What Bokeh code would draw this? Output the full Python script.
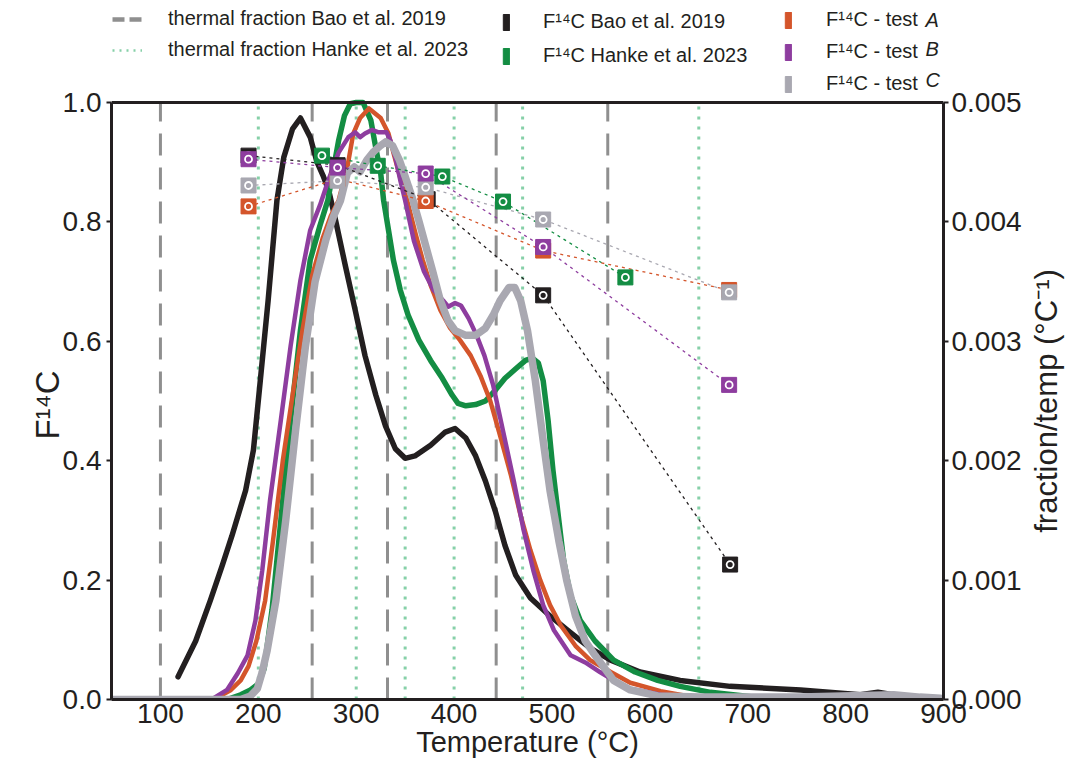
import math
import numpy as np
from bokeh.plotting import figure
from bokeh.models import (Range1d, LinearAxis, FixedTicker, PrintfTickFormatter,
                          Legend, LegendItem, Label, Span)
from bokeh.layouts import row
from bokeh.core.properties import value
from bokeh.embed import file_html
from bokeh.resources import INLINE

# ---------------- data ----------------
# thermal fraction boundaries (deg C)
bao_fractions = [100, 255, 332, 443, 557]
hanke_fractions = [200, 300, 350, 400, 470, 650]

# thermograms: temperature (deg C) and fraction/temp in units of 1e-3 per deg C
bao_T = [118, 136, 151, 163, 173, 187, 195, 202, 210, 219, 226, 235, 243, 253, 260, 266,
         272, 279, 289, 299, 309, 320, 330, 340, 350, 360, 376, 391, 401, 412, 422, 432,
         442, 452, 463, 478, 498, 519, 539, 560, 590, 631, 682, 754, 815, 833, 856, 897]
bao_ft = [0.19, 0.49, 0.83, 1.12, 1.37, 1.75, 2.09, 2.67, 3.34, 4.18, 4.54, 4.78, 4.87,
          4.71, 4.50, 4.39, 4.26, 4.01, 3.63, 3.26, 2.88, 2.55, 2.29, 2.10, 2.02, 2.04,
          2.13, 2.24, 2.27, 2.19, 2.04, 1.83, 1.58, 1.29, 1.04, 0.85, 0.70, 0.56, 0.43,
          0.33, 0.23, 0.16, 0.11, 0.08, 0.04, 0.06, 0.03, 0.01]

hanke_T = [50, 168, 182, 192, 200, 206, 214, 223, 233, 243, 253, 263, 271, 276, 282, 288,
           294, 300, 307, 315, 320, 325, 328, 333, 338, 345, 353, 364, 376, 388, 398, 404,
           412, 422, 432, 442, 452, 463, 473, 480, 486, 491, 496, 501, 507, 512, 519, 529,
           544, 563, 585, 608, 631, 662, 708]
hanke_ft = [0.0, 0.0, 0.04, 0.08, 0.13, 0.26, 0.75, 1.50, 2.34, 3.09, 3.68, 3.97, 4.18,
            4.41, 4.68, 4.89, 4.99, 5.0, 5.0, 4.85, 4.62, 4.41, 4.18, 3.93, 3.68, 3.43,
            3.22, 3.01, 2.84, 2.69, 2.55, 2.48, 2.46, 2.47, 2.50, 2.59, 2.69, 2.77, 2.84,
            2.86, 2.82, 2.67, 2.34, 1.92, 1.50, 1.16, 0.87, 0.66, 0.49, 0.33, 0.23, 0.16,
            0.11, 0.06, 0.02]

testA_T = [50, 153, 159, 172, 182, 190, 198, 207, 215, 225, 235, 245, 255, 266, 274, 282,
           291, 297, 304, 313, 325, 333, 338, 345, 352, 361, 368, 376, 386, 396, 406, 417,
           427, 437, 447, 458, 468, 478, 488, 498, 509, 524, 539, 560, 580, 611, 645, 700, 900]
testA_ft = [0.0, 0.0, 0.02, 0.08, 0.16, 0.28, 0.49, 0.83, 1.33, 2.00, 2.55, 3.09, 3.55,
            3.87, 4.05, 4.18, 4.46, 4.74, 4.87, 4.95, 4.87, 4.74, 4.58, 4.37, 4.18, 3.89,
            3.68, 3.47, 3.26, 3.11, 3.01, 2.88, 2.71, 2.50, 2.21, 1.88, 1.54, 1.25, 1.00,
            0.79, 0.62, 0.45, 0.33, 0.23, 0.14, 0.07, 0.02, 0.01, 0.0]

testB_T = [50, 146, 154, 168, 179, 189, 197, 204, 212, 223, 233, 243, 253, 263, 272, 282,
           292, 299, 304, 309, 316, 323, 331, 335, 340, 345, 350, 359, 369, 379, 389, 394,
           401, 407, 415, 423, 431, 440, 450, 461, 471, 481, 491, 502, 519, 534, 549, 563,
           580, 611, 652, 900]
testB_ft = [0.0, 0.0, 0.01, 0.08, 0.22, 0.37, 0.66, 1.08, 1.67, 2.34, 2.96, 3.51, 3.93,
            4.14, 4.36, 4.58, 4.71, 4.75, 4.71, 4.74, 4.77, 4.75, 4.75, 4.68, 4.54, 4.35,
            4.18, 3.84, 3.59, 3.43, 3.34, 3.29, 3.32, 3.30, 3.19, 3.05, 2.88, 2.63, 2.25,
            1.83, 1.42, 1.08, 0.79, 0.58, 0.37, 0.31, 0.23, 0.16, 0.09, 0.04, 0.02, 0.0]

testC_T = [50, 182, 192, 199, 204, 209, 218, 228, 238, 248, 258, 269, 277, 284, 291, 298,
           304, 311, 318, 325, 330, 337, 344, 350, 357, 364, 371, 378, 386, 394, 401, 412,
           422, 432, 440, 447, 456, 462, 468, 475, 483, 491, 498, 507, 515, 524, 534, 544,
           563, 580, 608, 652, 754, 849, 876, 897]
testC_ft = [0.0, 0.0, 0.03, 0.09, 0.23, 0.41, 0.83, 1.50, 2.25, 2.95, 3.50, 3.85, 4.05,
             4.18, 4.41, 4.46, 4.42, 4.52, 4.59, 4.64, 4.67, 4.64, 4.52, 4.38, 4.21, 4.01,
             3.80, 3.59, 3.34, 3.17, 3.09, 3.05, 3.05, 3.11, 3.22, 3.34, 3.45, 3.45, 3.34,
             3.09, 2.67, 2.17, 1.75, 1.33, 1.00, 0.70, 0.49, 0.37, 0.16, 0.08, 0.03, 0.02,
             0.02, 0.04, 0.02, 0.01]

# F14C measurements
bao_f14_T = [190, 281, 373, 491, 682]
bao_f14 = [0.911, 0.895, 0.838, 0.677, 0.226]
hanke_f14_T = [265, 322, 388, 450, 575]
hanke_f14 = [0.911, 0.894, 0.876, 0.834, 0.707]
test_f14_T = [190, 281, 371, 491, 681]
testA_f14 = [0.826, 0.872, 0.835, 0.752, 0.686]
testB_f14 = [0.905, 0.891, 0.881, 0.758, 0.527]
testC_f14 = [0.861, 0.869, 0.858, 0.804, 0.682]

x_ticks = [100, 200, 300, 400, 500, 600, 700, 800, 900]
y_ticks = [0.0, 0.2, 0.4, 0.6, 0.8, 1.0]
y2_ticks = [0.000, 0.001, 0.002, 0.003, 0.004, 0.005]

# texts
x_title = "Temperature (°C)"
y_title = "F\u00b9\u2074C"
y2_title = "fraction/temp (°C\u207b\u00b9)"
leg_line_labels = ["thermal fraction Bao et al. 2019", "thermal fraction Hanke et al. 2023"]
leg_mid_labels = ["F\u00b9\u2074C Bao et al. 2019", "F\u00b9\u2074C Hanke et al. 2023"]
leg_test_label = "F\u00b9\u2074C - test"
leg_test_letters = ["A", "B", "C"]

# ---------------- style ----------------
C_BLACK = "#231f20"
C_GREEN = "#138d43"
C_ORANGE = "#d4552b"
C_PURPLE = "#8e3d9f"
C_GRAY = "#a9a8b1"
C_VDASH = "#8f8f8f"
C_VDOT = "#86d0a8"
FONT = "Liberation Sans"
NBSP = "\u00a0"

FRAME_H = 699          # frame reaches the top of the canvas (legend lives there)
AX_H = 597             # pixel height of the 0..1 axis span
top_f14 = FRAME_H / AX_H
BORDER_R = 82
TITLE_W = 1066 - 111 - 832 - BORDER_R

p = figure(frame_width=832, frame_height=FRAME_H, x_range=Range1d(50, 900),
           y_range=Range1d(0, top_f14), output_backend="svg", toolbar_location=None,
           min_border_left=111, min_border_right=BORDER_R, min_border_top=0,
           min_border_bottom=62)
p.extra_y_ranges = {"ft": Range1d(0, 0.005 * top_f14)}
p.xgrid.visible = False
p.ygrid.visible = False
p.outline_line_color = None
p.background_fill_color = "white"
p.border_fill_color = "white"

p.segment(x0=bao_fractions, x1=bao_fractions, y0=0, y1=1, line_color=C_VDASH,
          line_width=3, line_dash="22 12")
p.segment(x0=hanke_fractions, x1=hanke_fractions, y0=0, y1=1, line_color=C_VDOT,
          line_width=3, line_dash="3 7")

to_ft = 1e-3
curves = [(bao_T, bao_ft, C_BLACK, 5.5), (hanke_T, hanke_ft, C_GREEN, 5.5),
          (testA_T, testA_ft, C_ORANGE, 4.5), (testB_T, testB_ft, C_PURPLE, 4.5),
          (testC_T, testC_ft, C_GRAY, 7.5)]
for T, ft, c, w in curves:
    p.line(T, np.array(ft) * to_ft, line_color=c, line_width=w, y_range_name="ft",
           line_join="round", line_cap="round")

pts = [(bao_f14_T, bao_f14, C_BLACK), (hanke_f14_T, hanke_f14, C_GREEN),
       (test_f14_T, testA_f14, C_ORANGE), (test_f14_T, testC_f14, C_GRAY),
       (test_f14_T, testB_f14, C_PURPLE)]
for T, f, c in pts:
    p.line(T, f, line_color=c, line_width=1.3, line_dash="3 4")
for T, f, c in pts:
    p.scatter(T, f, marker="square", size=15, fill_color=c, line_color=c)
    p.scatter(T, f, marker="circle", size=7, fill_alpha=0, line_color="white",
              line_width=1.8)

# top spine of the plotting box
p.add_layout(Span(location=1.0, dimension="width", line_color=C_BLACK, line_width=3))

p.xaxis.ticker = FixedTicker(ticks=x_ticks)
p.yaxis.ticker = FixedTicker(ticks=y_ticks)
p.yaxis.formatter = PrintfTickFormatter(format="%.1f")
p.yaxis.bounds = (0, 1.0)
p.xaxis.axis_label = x_title
# trailing no-break spaces keep the title centred on the 0..1 span of the axis
p.yaxis.axis_label = y_title + NBSP * 12

ax2 = LinearAxis(y_range_name="ft", ticker=FixedTicker(ticks=y2_ticks),
                 formatter=PrintfTickFormatter(format="%.3f"), bounds=(0, 0.005))
p.add_layout(ax2, "right")

for ax in [p.xaxis[0], p.yaxis[0], ax2]:
    ax.axis_line_color = C_BLACK
    ax.axis_line_width = 3
    ax.major_tick_line_color = C_BLACK
    ax.major_tick_line_width = 2
    ax.major_tick_in = 0
    ax.major_tick_out = 5
    ax.minor_tick_line_color = None
    ax.major_label_text_font = FONT
    ax.major_label_text_font_size = "28px"
    ax.major_label_text_color = C_BLACK
    ax.axis_label_text_font = FONT
    ax.axis_label_text_font_size = "31px"
    ax.axis_label_text_font_style = "normal"
    ax.axis_label_text_color = C_BLACK
p.xaxis.major_tick_out = 0
p.xaxis.major_label_standoff = 4
p.xaxis.axis_label_standoff = 0
p.xaxis.axis_label_text_font_size = "29px"
p.yaxis.major_label_standoff = 5
p.yaxis.axis_label_standoff = -6
p.yaxis.axis_label_text_font_size = "33px"
ax2.major_label_standoff = 3

# ---------------- legends (inside the extended frame, above the axes box) ----------------
# swatch renderers sit outside the visible x range; they only feed the legends
off = [-200, -190]
leg_dash = p.line(off, [0.5, 0.5], line_color=C_VDASH, line_width=4.5, line_dash="12 5")
leg_dot = p.line(off, [0.5, 0.5], line_color=C_VDOT, line_width=2.5, line_dash="2 5")
bars = {}
for name, c in [("k", C_BLACK), ("g", C_GREEN), ("o", C_ORANGE), ("p", C_PURPLE),
                ("s", C_GRAY)]:
    bars[name] = p.quad(left=[off[0]], right=[off[1]], top=[0.6], bottom=[0.5],
                        fill_color=c, line_color=c)

def mk_legend(items, loc, gw, gh, spacing, standoff):
    lg = Legend(items=items, location=loc, glyph_width=gw, glyph_height=gh,
                label_height=gh, spacing=spacing, label_standoff=standoff,
                padding=0, margin=0, border_line_alpha=0, background_fill_alpha=0,
                label_text_font=FONT, label_text_font_size="20px",
                label_text_color=C_BLACK)
    p.add_layout(lg)
    return lg

mk_legend([LegendItem(label=leg_line_labels[0], renderers=[leg_dash]),
           LegendItem(label=leg_line_labels[1], renderers=[leg_dot])],
          (1, 638), 30, 20, 8, 26)
mk_legend([LegendItem(label=leg_mid_labels[0], renderers=[bars["k"]]),
           LegendItem(label=leg_mid_labels[1], renderers=[bars["g"]])],
          (391, 632), 8, 20, 11, 33)
mk_legend([LegendItem(label=leg_test_label, renderers=[bars["o"]]),
           LegendItem(label=leg_test_label, renderers=[bars["p"]]),
           LegendItem(label=leg_test_label, renderers=[bars["s"]])],
          (673, 604), 8, 20, 9, 34)
for letter, yy in zip(leg_test_letters, [680, 651, 620]):
    p.add_layout(Label(x=814, y=yy, x_units="screen", y_units="screen", text=letter,
                       text_font=FONT, text_font_size="20px",
                       text_font_style="italic", text_baseline="middle",
                       text_color=C_BLACK))

# ---------------- right-hand axis title (reads bottom to top) ----------------
rt = figure(frame_width=TITLE_W, frame_height=FRAME_H, x_range=Range1d(0, 1),
            y_range=Range1d(0, top_f14), output_backend="svg", toolbar_location=None,
            min_border_left=0, min_border_right=0, min_border_top=0,
            min_border_bottom=62, outline_line_color=None)
rt.axis.visible = False
rt.grid.visible = False
rt.border_fill_color = "white"
rt.text(x=[0.5], y=[0.5], text=[y2_title], angle=math.pi / 2, text_align="center",
        text_baseline="middle", text_font=value(FONT), text_font_size="31px",
        text_color=C_BLACK)

open("out.html", "w").write(file_html(row(p, rt, spacing=0), INLINE))
